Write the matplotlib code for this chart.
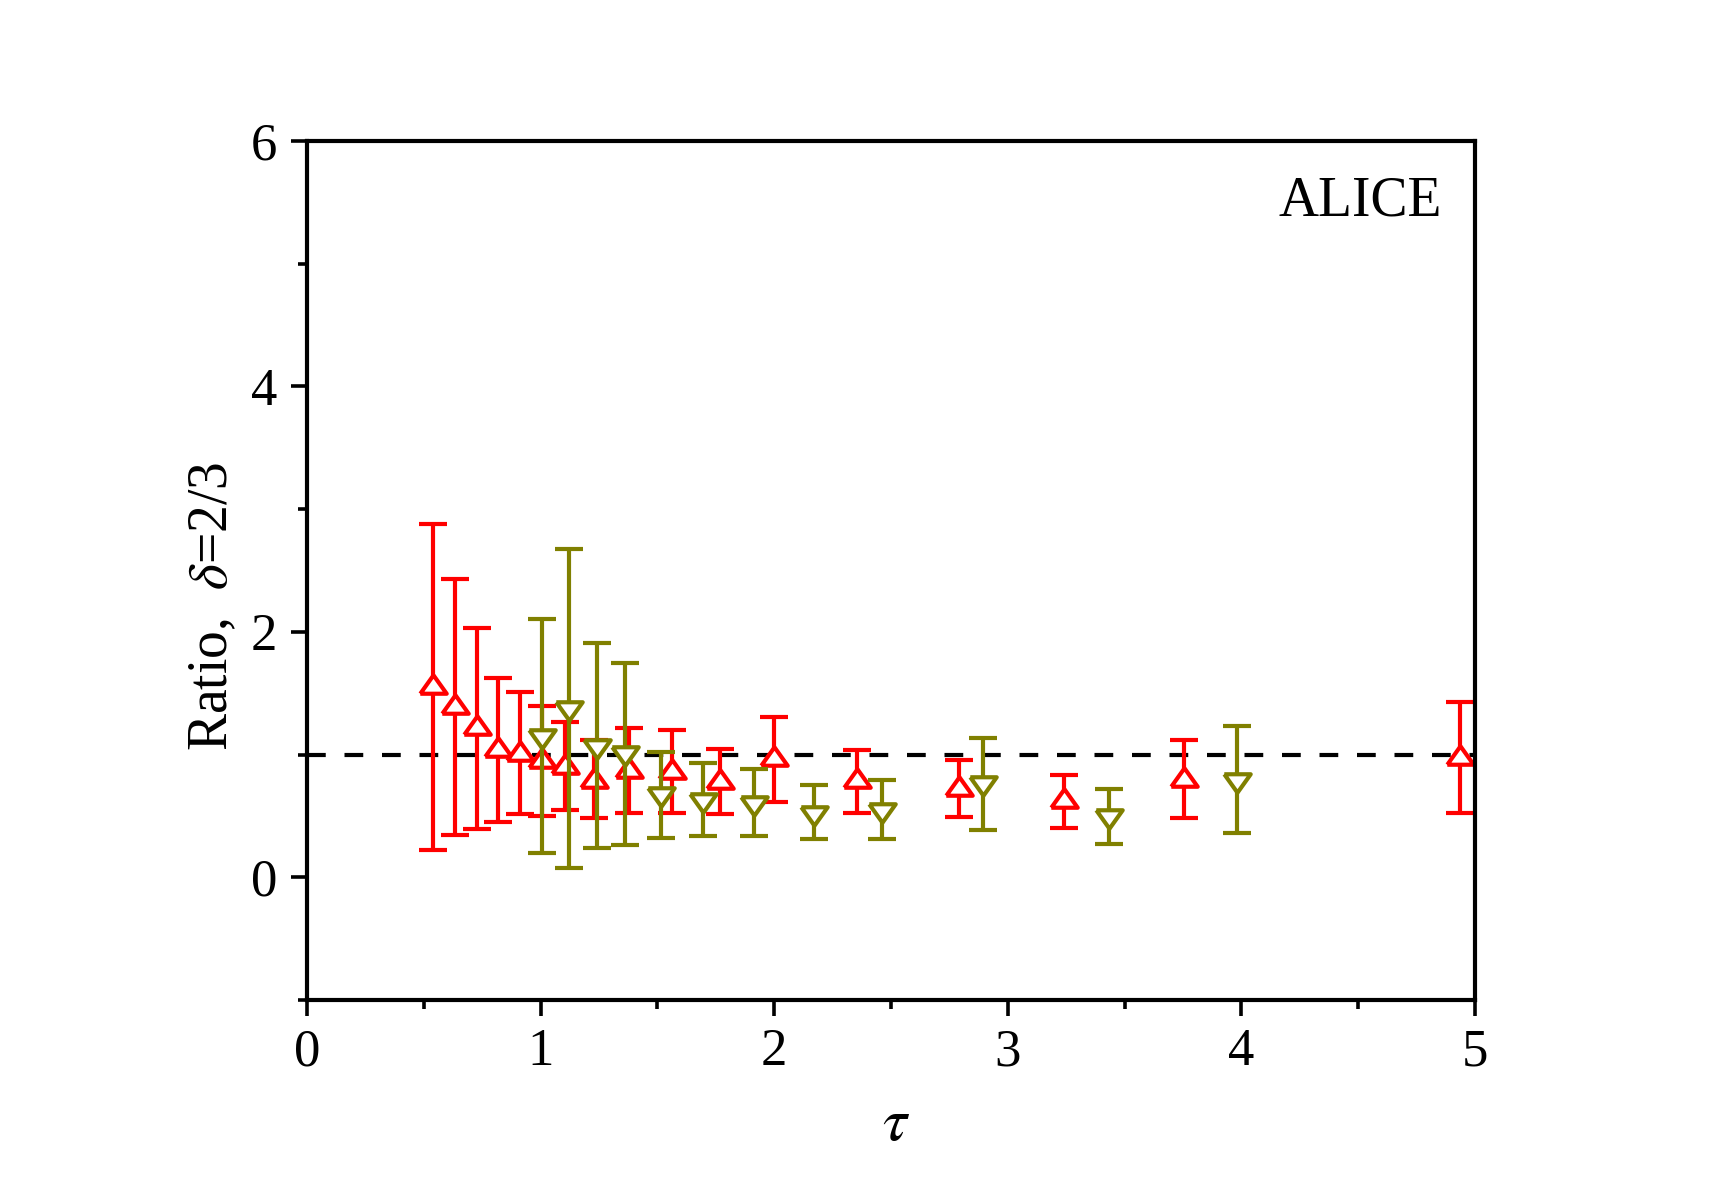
#!/usr/bin/env python3
"""Ratio vs tau for ALICE, delta = 2/3."""

import numpy as np
import matplotlib

matplotlib.use("Agg")
import matplotlib.pyplot as plt
from matplotlib.ticker import MultipleLocator

# red (up triangles)
red_x = [0.541, 0.634, 0.726, 0.816, 0.912, 1.005, 1.104, 1.230, 1.380, 1.561,
         1.766, 2.000, 2.354, 2.789, 3.240, 3.756, 4.934]
red_y = [1.573, 1.410, 1.241, 1.059, 1.032, 0.975, 0.923, 0.812, 0.891, 0.880,
         0.798, 0.986, 0.806, 0.741, 0.643, 0.820, 1.000]
red_hi = [2.878, 2.430, 2.035, 1.625, 1.511, 1.396, 1.268, 1.120, 1.214, 1.198,
          1.043, 1.307, 1.040, 0.953, 0.834, 1.117, 1.429]
red_lo = [0.224, 0.342, 0.396, 0.453, 0.513, 0.499, 0.545, 0.485, 0.526, 0.526,
          0.513, 0.616, 0.521, 0.488, 0.401, 0.483, 0.526]

# olive (down triangles)
green_x = [1.005, 1.122, 1.240, 1.362, 1.514, 1.697, 1.915, 2.170, 2.462, 2.892,
           3.432, 3.983]
green_y = [1.125, 1.356, 1.048, 0.986, 0.652, 0.608, 0.581, 0.502, 0.526, 0.741,
           0.472, 0.771]
green_hi = [2.104, 2.675, 1.913, 1.750, 1.024, 0.932, 0.885, 0.752, 0.793, 1.138,
            0.717, 1.231]
green_lo = [0.200, 0.078, 0.236, 0.260, 0.322, 0.336, 0.336, 0.314, 0.309, 0.387,
            0.273, 0.363]

plt.rcParams.update({
    "font.family": "Liberation Serif",
    "mathtext.fontset": "stix",
    "axes.linewidth": 3.0,
})

TRI_UP = [(-1, -0.7), (1, -0.7), (0, 0.7), (-1, -0.7)]
TRI_DOWN = [(-1, 0.7), (1, 0.7), (0, -0.7), (-1, 0.7)]


def draw(ax, x, y, lo, hi, color, marker, z):
    y = np.asarray(y)
    yerr = [y - np.asarray(lo), np.asarray(hi) - y]
    ax.errorbar(x, y, yerr=yerr, fmt="none", ecolor=color, elinewidth=3.0,
                capsize=10, capthick=3.0, zorder=z)
    ax.plot(x, y, linestyle="none", marker=marker, markersize=19,
            markerfacecolor="white", markeredgecolor=color,
            markeredgewidth=3.0, zorder=z + 0.1)


fig = plt.figure(figsize=(17.13, 11.98), dpi=100)
ax = fig.add_axes([0.1792, 0.1653, 0.6819, 0.7170])

ax.axhline(1.0, color="black", linewidth=3.0, linestyle=(0, (4.5, 4.5)), zorder=1)
draw(ax, red_x, red_y, red_lo, red_hi, "#ff0000", TRI_UP, 2)
draw(ax, green_x, green_y, green_lo, green_hi, "#808000", TRI_DOWN, 3)

ax.set_xlim(0, 5)
ax.set_ylim(-1, 6)
ax.xaxis.set_major_locator(MultipleLocator(1))
ax.xaxis.set_minor_locator(MultipleLocator(0.5))
ax.yaxis.set_major_locator(MultipleLocator(2))
ax.yaxis.set_minor_locator(MultipleLocator(1))
ax.tick_params(which="both", direction="out", width=2.6, labelsize=38,
               top=False, right=False)
ax.tick_params(which="major", length=11.5)
ax.tick_params(which="minor", length=6.5)
ax.tick_params(axis="x", pad=9)
ax.tick_params(axis="y", pad=10)

ax.text(4.157, 5.393, "ALICE", fontsize=40, ha="left", va="baseline")

fig.text(0.1243, 0.4942, r"Ratio,  $\delta$=2/3", fontsize=40, rotation=90,
         ha="center", va="center")
fig.text(0.523, 0.061, r"$\tau$", fontsize=44, ha="center", va="center")

fig.savefig("out.png", dpi=100)
